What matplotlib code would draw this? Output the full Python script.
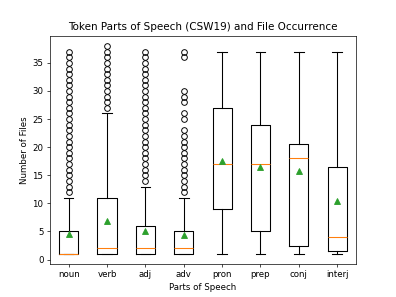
import matplotlib
matplotlib.use("Agg")
import matplotlib.pyplot as plt

# Summary statistics (files per part of speech)
labels = ["noun", "verb", "adj", "adv", "pron", "prep", "conj", "interj"]
whislo = [1, 1, 1, 1, 1, 1, 1, 1]
q1 = [1, 1, 1, 1, 9, 5, 2.5, 1.5]
med = [1, 2, 2, 2, 17, 17, 18, 4]
q3 = [5, 11, 6, 5, 27, 24, 20.6, 16.5]
whishi = [11, 26, 13, 11, 37, 37, 37, 37]
means = [4.5, 6.9, 5.0, 4.3, 17.5, 16.4, 15.8, 10.4]

noun_fliers = [12, 13, 14, 15, 16, 17, 18, 19, 20, 21, 22, 23, 24, 25,
               26, 27, 28, 29, 30, 31, 32, 33, 34, 35, 36, 37]
verb_fliers = [27, 28, 29, 30, 31, 32, 33, 34, 35, 36, 37, 38]
adj_fliers = [14, 15, 16, 17, 18, 19, 20, 21, 22, 23, 24, 25,
              26, 27, 28, 29, 30, 31, 32, 33, 34, 35, 36, 37]
adv_fliers = [12, 13, 14, 15, 16, 17, 18, 19, 20, 21, 22, 23,
              25, 26, 28, 29, 30, 36, 37]
fliers = [noun_fliers, verb_fliers, adj_fliers, adv_fliers, [], [], [], []]

stats = []
for i in range(len(labels)):
    stats.append({
        "label": labels[i],
        "whislo": whislo[i],
        "q1": q1[i],
        "med": med[i],
        "q3": q3[i],
        "whishi": whishi[i],
        "mean": means[i],
        "fliers": fliers[i],
    })

fig, ax = plt.subplots(figsize=(6.4, 4.8), dpi=61.875)
lw = 1.25
ax.bxp(stats, showmeans=True,
       boxprops=dict(linewidth=lw),
       whiskerprops=dict(linewidth=lw),
       capprops=dict(linewidth=lw),
       medianprops=dict(linewidth=lw, color="C1"),
       flierprops=dict(markersize=6.6, markeredgewidth=1.1),
       meanprops=dict(markersize=6.6))

ax.set_title("Token Parts of Speech (CSW19) and File Occurrence")
ax.set_xlabel("Parts of Speech")
ax.set_ylabel("Number of Files")

fig.savefig("out.png", dpi=61.875)
plt.close()
